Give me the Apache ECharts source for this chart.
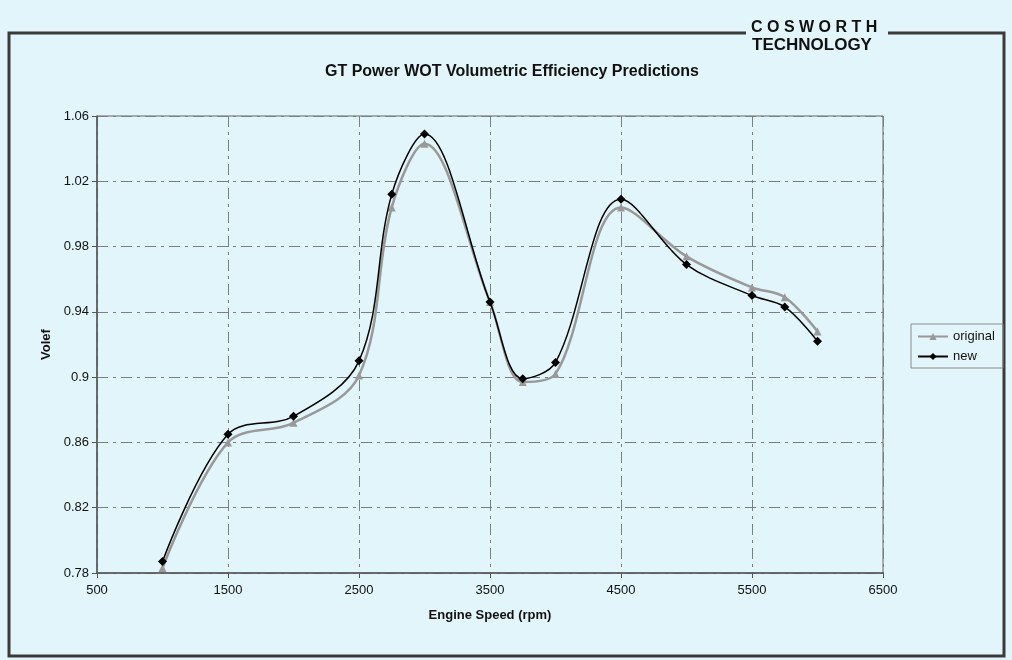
<!DOCTYPE html>
<html>
<head>
<meta charset="utf-8">
<script src="https://cdn.jsdelivr.net/npm/echarts@6/dist/echarts.min.js"></script>
<style>
  html, body { margin: 0; padding: 0; background: #e2f5fa; }
  #chart { width: 1012px; height: 660px; }
</style>
</head>
<body>
<div id="chart"></div>
<script>
// engine speed (rpm)
const speeds = [1000, 1500, 2000, 2500, 2750, 3000, 3500, 3750, 4000, 4500, 5000, 5500, 5750, 6000];
// volumetric efficiency
const originalVe = [0.783, 0.860, 0.872, 0.901, 1.004, 1.043, 0.946, 0.897, 0.902, 1.004, 0.974, 0.955, 0.949, 0.928];
const newVe = [0.787, 0.865, 0.876, 0.910, 1.012, 1.049, 0.946, 0.899, 0.909, 1.009, 0.969, 0.950, 0.943, 0.922];

const chart = echarts.init(document.getElementById('chart'));

const font = 'Liberation Sans, Arial, sans-serif';
const bg = '#e2f5fa';
const gridDash = { color: '#7a7f82', width: 1, type: [11, 5, 3, 5] };

chart.setOption({
  backgroundColor: bg,
  animation: false,
  textStyle: { fontFamily: font },
  title: {
    text: 'GT Power WOT Volumetric Efficiency Predictions',
    left: 507,
    textAlign: 'center',
    top: 59,
    textStyle: { fontSize: 16, fontWeight: 'bold', color: '#111', fontFamily: font },
  },
  graphic: [
    {
      type: 'rect',
      shape: { x: 9, y: 33, width: 995, height: 623 },
      style: { fill: 'none', stroke: '#3a3a3a', lineWidth: 3 },
      z: 0,
    },
    {
      type: 'rect',
      shape: { x: 746, y: 22, width: 142, height: 14 },
      style: { fill: bg },
      z: 1,
    },
    {
      type: 'text',
      left: 751,
      top: 20,
      style: { text: 'C O S W O R T H', font: 'bold 16px ' + font, fill: '#111' },
      z: 2,
    },
    {
      type: 'text',
      left: 752,
      top: 37,
      style: { text: 'TECHNOLOGY', font: 'bold 17px ' + font, fill: '#111' },
      z: 2,
    },
  ],
  legend: {
    orient: 'vertical',
    left: 911,
    top: 324,
    itemWidth: 30,
    itemHeight: 9,
    itemGap: 7,
    padding: [6, 8, 5, 6],
    borderColor: '#8a8a8a',
    borderWidth: 1,
    textStyle: { fontSize: 13, color: '#111', fontFamily: font },
    data: ['original', 'new'],
  },
  grid: {
    left: 97,
    right: 129,
    top: 116,
    bottom: 87,
    show: true,
    borderColor: '#666',
    borderWidth: 1,
    backgroundColor: 'transparent',
  },
  xAxis: {
    type: 'value',
    min: 500,
    max: 6500,
    interval: 1000,
    name: 'Engine Speed (rpm)',
    nameLocation: 'middle',
    nameGap: 36,
    nameTextStyle: { fontSize: 13, fontWeight: 'bold', color: '#111', fontFamily: font },
    axisLine: { lineStyle: { color: '#555', width: 1.5 } },
    axisTick: { show: true, length: 5, lineStyle: { color: '#555' } },
    axisLabel: { fontSize: 13, color: '#111', margin: 11, formatter: v => String(v) },
    splitLine: { show: true, lineStyle: gridDash },
  },
  yAxis: {
    type: 'value',
    min: 0.78,
    max: 1.06,
    interval: 0.04,
    name: 'Volef',
    nameLocation: 'middle',
    nameGap: 44,
    nameTextStyle: { fontSize: 13, fontWeight: 'bold', color: '#111', fontFamily: font },
    axisLine: { show: true, lineStyle: { color: '#555', width: 1.5 } },
    axisTick: { show: true, length: 5, lineStyle: { color: '#555' } },
    axisLabel: {
      fontSize: 13,
      color: '#111',
      margin: 8,
      formatter: v => String(Math.round(v * 100) / 100),
    },
    splitLine: { show: true, lineStyle: gridDash },
  },
  series: [
    {
      name: 'original',
      type: 'line',
      data: speeds.map((s, i) => [s, originalVe[i]]),
      smooth: 0.35,
      symbol: 'triangle',
      symbolSize: 8,
      lineStyle: { color: '#999', width: 2.5 },
      itemStyle: { color: '#999' },
      z: 2,
    },
    {
      name: 'new',
      type: 'line',
      data: speeds.map((s, i) => [s, newVe[i]]),
      smooth: 0.35,
      symbol: 'diamond',
      symbolSize: 9,
      lineStyle: { color: '#000', width: 1.5 },
      itemStyle: { color: '#000' },
      z: 3,
    },
  ],
});
</script>
</body>
</html>
